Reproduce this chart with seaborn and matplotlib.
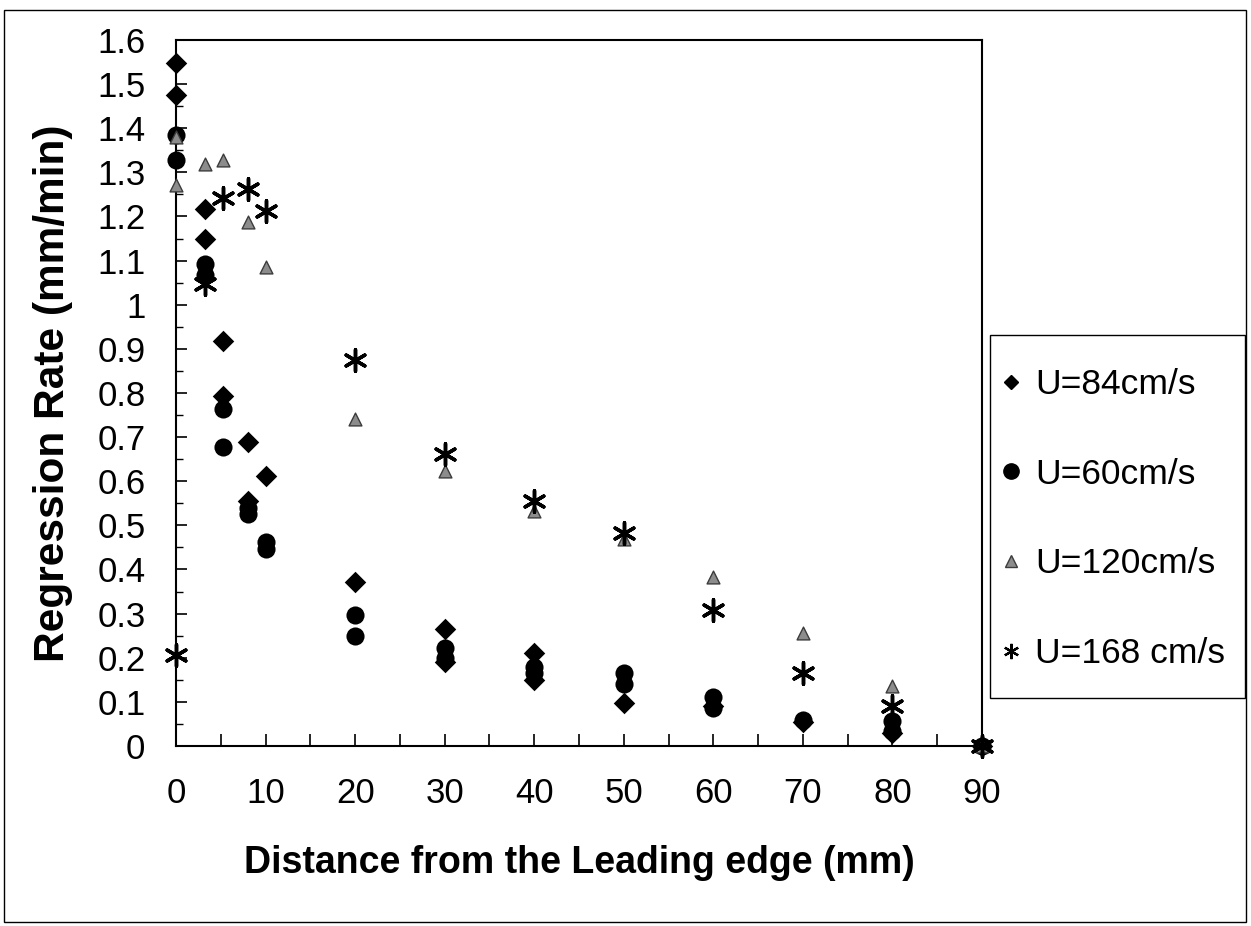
import numpy as np
import pandas as pd
import seaborn as sns
import matplotlib.pyplot as plt
from matplotlib.patches import Rectangle
from matplotlib.lines import Line2D
from matplotlib.ticker import MultipleLocator, FormatStrFormatter

# data (distance in mm, rate in mm/min)
x_84 = [0, 0, 3.2, 3.2, 5.3, 5.3, 8, 8, 10, 20, 30, 30, 40, 40, 50, 60, 70, 80, 90]
y_84 = [1.548, 1.475, 1.218, 1.148, 0.918, 0.794, 0.689, 0.556, 0.611, 0.371,
        0.266, 0.19, 0.21, 0.15, 0.097, 0.09, 0.055, 0.03, 0]

x_60 = [0, 0, 3.2, 3.2, 5.3, 5.3, 8, 8, 10, 10, 20, 20, 30, 30, 40, 40,
        50, 50, 60, 60, 70, 80, 80, 90]
y_60 = [1.384, 1.329, 1.093, 1.067, 0.764, 0.677, 0.54, 0.525, 0.463, 0.447,
        0.296, 0.25, 0.222, 0.2, 0.178, 0.165, 0.166, 0.14, 0.11, 0.087,
        0.06, 0.057, 0.035, 0]

x_120 = [0, 0, 3.2, 5.3, 8, 10, 20, 30, 40, 50, 60, 70, 80, 90]
y_120 = [1.38, 1.271, 1.32, 1.329, 1.188, 1.086, 0.741, 0.624, 0.533, 0.47,
         0.382, 0.257, 0.136, 0]

x_168 = [0, 3.2, 5.3, 8, 10, 20, 30, 40, 50, 60, 70, 80, 90]
y_168 = [0.207, 1.048, 1.243, 1.263, 1.213, 0.874, 0.662, 0.556, 0.483,
         0.309, 0.166, 0.091, 0]

labels = ["U=84cm/s", "U=60cm/s", "U=120cm/s", "U=168 cm/s"]

sns.set_theme(style="white")
plt.rcParams["font.family"] = ["Liberation Sans", "DejaVu Sans"]
plt.rcParams["text.color"] = "black"
plt.rcParams["axes.labelcolor"] = "black"

fig = plt.figure(figsize=(12.51, 9.26), dpi=100)
ax = fig.add_axes([0.1407, 0.1944, 0.6443, 0.7624])

star = (6, 2, 0)
series = [
    (x_84, y_84, dict(marker="D", s=120, color="black", edgecolor="black", linewidth=0)),
    (x_60, y_60, dict(marker="o", s=170, color="black", edgecolor="black", linewidth=0)),
    (x_120, y_120, dict(marker="^", s=85, color="#8c8c8c", edgecolor="#3c3c3c", linewidth=1)),
    (x_168, y_168, dict(marker=star, s=240, color="black", linewidth=2.5)),
]
for xs, ys, kw in series:
    df = pd.DataFrame({"x": xs, "y": ys})
    sns.scatterplot(data=df, x="x", y="y", ax=ax, legend=False, zorder=3,
                    clip_on=False, **kw)

ax.set_xlim(0, 90)
ax.set_ylim(0, 1.6)
ax.xaxis.set_major_locator(MultipleLocator(10))
ax.xaxis.set_minor_locator(MultipleLocator(5))
ax.yaxis.set_major_locator(MultipleLocator(0.1))
ax.yaxis.set_minor_locator(MultipleLocator(0.05))
ax.yaxis.set_major_formatter(FormatStrFormatter("%g"))
ax.xaxis.set_major_formatter(FormatStrFormatter("%g"))
ax.tick_params(axis="x", which="both", direction="in", length=9, width=1.2,
               colors="black", labelsize=25, pad=22)
ax.tick_params(axis="y", which="major", direction="in", length=8, width=1.2,
               colors="black", labelsize=25, pad=22)
ax.tick_params(axis="y", which="minor", direction="in", length=5, width=1.0,
               colors="black")
ax.tick_params(which="both", left=True, bottom=True)
for sp in ax.spines.values():
    sp.set_visible(True)
    sp.set_color("black")
    sp.set_linewidth(1.5)

ax.set_xlabel("Distance from the Leading edge (mm)", fontsize=27, fontweight="bold",
              color="black")
ax.set_ylabel("Regression Rate (mm/min)", fontsize=30.5, fontweight="bold",
              color="black")
ax.xaxis.set_label_coords(0.5, -0.14)
ax.yaxis.set_label_coords(-0.128, 0.5)

handles = [
    Line2D([], [], linestyle="none", marker="D", markersize=7, color="black"),
    Line2D([], [], linestyle="none", marker="o", markersize=11, color="black"),
    Line2D([], [], linestyle="none", marker="^", markersize=8,
           markerfacecolor="#8c8c8c", markeredgecolor="#3c3c3c"),
    Line2D([], [], linestyle="none", marker=star, markersize=11, color="black",
           markeredgewidth=1.6),
]
leg = fig.legend(handles, labels, loc="upper left", bbox_to_anchor=(0.7994, 0.6026),
                 fontsize=25.5, frameon=False, handlelength=0.6, handletextpad=0.4,
                 labelspacing=1.6, borderpad=0, borderaxespad=0)
for t in leg.get_texts():
    t.set_color("black")

# legend box and outer chart border, drawn as in the original spreadsheet chart
fig.patches.append(Rectangle((0.7914, 0.2462), 0.2038, 0.392, transform=fig.transFigure,
                             fill=False, edgecolor="black", linewidth=1.0))
fig.patches.append(Rectangle((0.003, 0.004), 0.993, 0.985, transform=fig.transFigure,
                             fill=False, edgecolor="black", linewidth=1.0))

fig.savefig("out.png", dpi=100, facecolor="white")
